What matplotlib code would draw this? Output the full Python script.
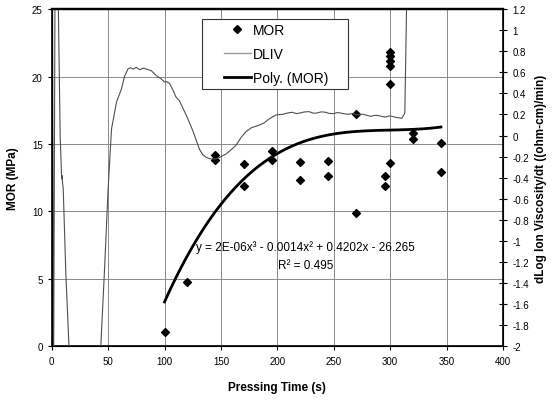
import matplotlib
matplotlib.use("Agg")
import matplotlib.pyplot as plt
from matplotlib.patches import Rectangle
from matplotlib.lines import Line2D
import numpy as np

plt.rcParams['font.family'] = ['Liberation Sans', 'DejaVu Sans']

# MOR test results (MPa) against pressing time (s)
mor_time = [100, 120, 145, 145, 170, 170, 195, 195, 220, 220, 245, 245,
            270, 270, 295, 295, 300, 300, 300, 300, 300, 300, 320, 320, 345, 345]
mor_val = [1.05, 4.8, 14.2, 13.85, 13.5, 11.9, 14.45, 13.85, 13.65, 12.35, 13.75, 12.6,
           17.2, 9.9, 12.6, 11.9, 21.85, 21.5, 21.15, 20.8, 19.45, 13.6, 15.8, 15.4, 15.05, 12.95]

# dLog ion viscosity / dt trace
dliv_time = [0.0, 0.6, 1.6, 3.0, 5.9, 7.5, 8.8, 9.2, 9.6, 10.2, 12.5, 15.3, 16.5,
             42.5, 43.5, 47, 50, 53, 57.4, 61.8, 64.5, 67.6, 70, 72, 75, 78, 81, 84,
             88.3, 92.7, 96, 100, 102, 104.4, 108, 110, 113.2, 116, 120, 125, 128,
             131, 134, 137, 141, 145.6, 148.5, 154.5, 158, 163.3, 168, 172, 177,
             183.8, 188, 192.7, 198.6, 205, 209, 213, 217, 220, 224, 228, 232, 235,
             239, 242.7, 246, 250, 253, 256, 260, 263, 267, 270, 273, 276, 280, 283,
             286, 290, 293, 296, 299, 302, 305, 307, 310.3, 313, 314.5, 315]
dliv_val = [-2.5, 1.6, -2.5, 1.6, 1.2, 0.0, -0.41, -0.38, -0.45, -0.5, -1.3, -2.0, -2.3,
            -2.3, -2.0, -1.23, -0.506, 0.061, 0.317, 0.441, 0.56, 0.632, 0.643, 0.63, 0.647,
            0.624, 0.639, 0.63, 0.615, 0.568, 0.547, 0.509, 0.511, 0.496, 0.419, 0.368,
            0.33, 0.266, 0.176, 0.048, -0.042, -0.131, -0.182, -0.208, -0.221, -0.221,
            -0.208, -0.175, -0.144, -0.093, -0.016, 0.035, 0.074, 0.099, 0.118, 0.157,
            0.195, 0.202, 0.214, 0.221, 0.208, 0.214, 0.224, 0.227, 0.212, 0.214, 0.225,
            0.221, 0.21, 0.208, 0.218, 0.214, 0.205, 0.202, 0.21, 0.195, 0.2, 0.202, 0.19,
            0.182, 0.192, 0.189, 0.18, 0.176, 0.186, 0.182, 0.172, 0.17, 0.163, 0.214, 1.2, 1.4]

x_ticks = [0, 50, 100, 150, 200, 250, 300, 350, 400]
left_ticks = [0, 5, 10, 15, 20, 25]
right_ticks = [-2, -1.8, -1.6, -1.4, -1.2, -1, -0.8, -0.6, -0.4, -0.2, 0,
               0.2, 0.4, 0.6, 0.8, 1, 1.2]

equation = "y = 2E-06x\u00b3 - 0.0014x\u00b2 + 0.4202x - 26.265"
r2_text = "R\u00b2 = 0.495"

fig = plt.figure(figsize=(5.59, 4.02), dpi=100)
ax = fig.add_axes([0.0925, 0.1356, 0.8073, 0.8395])
ax2 = ax.twinx()

# cubic trendline through the MOR points
coef = np.polyfit(mor_time, mor_val, 3)
xfit = np.linspace(min(mor_time), max(mor_time), 200)
ax.plot(xfit, np.polyval(coef, xfit), color='black', lw=2.0, zorder=4)
ax.scatter(mor_time, mor_val, marker='D', s=16, color='black', zorder=5)

ax.set_xlim(0, 400)
ax.set_ylim(0, 25)
ax.set_xticks(x_ticks)
ax.set_yticks(left_ticks)
ax.grid(True, color='#8a8a8a', lw=0.7)
ax.set_axisbelow(True)
ax.tick_params(labelsize=7, length=3, width=0.8, direction='out')
ax.set_xlabel("Pressing Time (s)", fontsize=8.5, fontweight='bold', labelpad=11)
ax.set_ylabel("MOR (MPa)", fontsize=8.5, fontweight='bold', labelpad=9)
for s in ['left', 'bottom']:
    ax.spines[s].set_linewidth(1.2)
ax.spines['top'].set_linewidth(1.6)

ax.text(225, 7.37, equation, fontsize=8.5, ha='center', va='center', zorder=6)
ax.text(225, 6.05, r2_text, fontsize=8.5, ha='center', va='center', zorder=6)

ax2.plot(dliv_time, dliv_val, color='#505050', lw=0.8)
ax2.set_ylim(-2, 1.2)
ax2.set_yticks(right_ticks)
ax2.set_yticklabels(["%g" % t for t in right_ticks])
ax2.tick_params(labelsize=7, length=6, width=0.8, direction='inout', pad=4)
ax2.set_ylabel("dLog Ion Viscosity/dt ((ohm-cm)/min)", fontsize=8.5,
               fontweight='bold', labelpad=4)
ax2.spines['right'].set_linewidth(1.2)
ax2.spines['top'].set_linewidth(1.6)

# legend box
ax2.add_patch(Rectangle((0.332, 0.763), 0.324, 0.207, transform=ax2.transAxes,
                        facecolor='white', edgecolor='#333333', lw=0.8, zorder=10))
handles = [
    Line2D([], [], marker='D', color='black', ls='none', markersize=4),
    Line2D([], [], color='#9a9a9a', lw=1.0),
    Line2D([], [], color='black', lw=2.0),
]
leg = ax2.legend(handles, ["MOR", "DLIV", "Poly. (MOR)"], loc='upper left',
                 bbox_to_anchor=(0.37, 0.975), frameon=False, fontsize=10,
                 handlelength=1.9, handletextpad=0.15, labelspacing=0.72,
                 borderaxespad=0.0)
leg.set_zorder(11)

fig.savefig("out.png", dpi=100)
